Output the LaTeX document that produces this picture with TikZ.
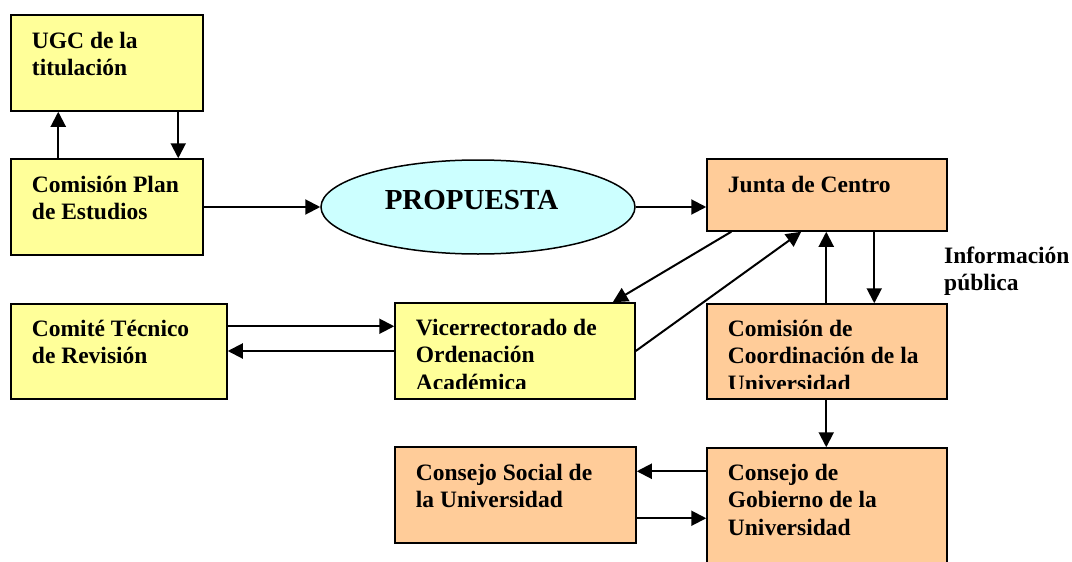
\documentclass[tikz,border=0pt]{standalone}
\usepackage{fontspec}
\setmainfont{Liberation Serif}
\usetikzlibrary{shapes.geometric,arrows.meta,calc}
\definecolor{boxyellow}{HTML}{FFFF99}
\definecolor{boxorange}{HTML}{FFCC99}
\definecolor{boxcyan}{HTML}{CCFFFF}
\newcommand\ml[1]{\begin{tabular}[t]{@{}l@{}}#1\end{tabular}}
\begin{document}
\begin{tikzpicture}[x=1pt,y=-1pt,
  box/.style={draw=black, line width=1.5pt, inner sep=0pt, rectangle},
  yel/.style={box, fill=boxyellow},
  org/.style={box, fill=boxorange},
  lbl/.style={anchor=base west, inner sep=0pt, font=\bfseries\fontsize{23.5}{27.5}\selectfont},
  arr/.style={line width=2pt, -{Triangle[length=15pt,width=15pt]}}]
\useasboundingbox (0,0) rectangle (1072,562);
% boxes
\node[yel, minimum width=192, minimum height=96] (ugc) at (107,63) {};
\node[yel, minimum width=192, minimum height=96] (cpe) at (107,207) {};
\node[yel, minimum width=216, minimum height=95] (comite) at (119,351.5) {};
\node[yel, minimum width=240, minimum height=96] (vice) at (515,351) {};
\node[org, minimum width=240, minimum height=72] (junta) at (827,195) {};
\node[org, minimum width=240, minimum height=95] (coord) at (827,351.5) {};
\node[org, minimum width=241, minimum height=96] (social) at (515.5,495) {};
\node[org, minimum width=240, minimum height=140] (gob) at (827,518) {};
\node[draw=black, line width=1.5pt, fill=boxcyan, ellipse, minimum width=314, minimum height=94, inner sep=0pt] (prop) at (478,207) {};
% texts
\node[lbl] (tugc) at ($(ugc.north west)+(21.5,34)$) {\ml{UGC de la\\titulación}};
\node[lbl] (tcpe) at ($(cpe.north west)+(21.5,34)$) {\ml{Comisión Plan\\de Estudios}};
\node[lbl] (tcomite) at ($(comite.north west)+(21.5,33)$) {\ml{Comité Técnico\\de Revisión}};
\begin{scope}
\clip (vice.north west) rectangle ($(vice.south east)+(0,-11)$);
\node[lbl] (tvice) at ($(vice.north west)+(21.5,33)$) {\ml{Vicerrectorado de\\Ordenación\\Académica}};
\end{scope}
\node[lbl] (tjunta) at ($(junta.north west)+(21.5,34)$) {Junta de Centro};
\begin{scope}
\clip (coord.north west) rectangle ($(coord.south east)+(0,-11)$);
\node[lbl] (tcoord) at ($(coord.north west)+(21.5,33)$) {\ml{Comisión de\\Coordinación de la\\Universidad}};
\end{scope}
\node[lbl] (tsocial) at ($(social.north west)+(21.5,34)$) {\ml{Consejo Social de\\la Universidad}};
\node[lbl] (tgob) at ($(gob.north west)+(21.5,33)$) {\ml{Consejo de\\Gobierno de la\\Universidad}};
\node[anchor=base, inner sep=0pt, font=\bfseries\fontsize{29}{34}\selectfont] (tprop) at (471.5,209) {PROPUESTA};
\node[lbl] (info) at (944,263) {\ml{Información\\pública}};
% helper coordinates
\coordinate (c1) at ($(comite.north east)+(0,23)$);
\coordinate (g1) at ($(gob.north west)+(0,24)$);
\coordinate (s1) at ($(social.north east)+(0,72)$);
% connectors
\draw[arr] ($(cpe.north west)+(48,0)$) -- ($(ugc.south west)+(48,0)$);
\draw[arr] ($(ugc.south west)+(168,0)$) -- ($(cpe.north west)+(168,0)$);
\draw[arr] (cpe.east) -- (prop.west);
\draw[arr] (prop.east) -- (prop.east -| junta.west);
\draw[arr] ($(junta.south west)+(25,0)$) -- ($(vice.north east)+(-23,0)$);
\draw[arr] (vice.east) -- ($(junta.south west)+(95,0)$);
\draw[arr] ($(coord.north west)+(120,0)$) -- ($(junta.south west)+(120,0)$);
\draw[arr] ($(junta.south west)+(168,0)$) -- ($(coord.north west)+(168,0)$);
\draw[arr] (c1) -- (c1 -| vice.west);
\draw[arr] (vice.west) -- (vice.west -| comite.east);
\draw[arr] ($(coord.south west)+(120,0)$) -- ($(gob.north west)+(120,0)$);
\draw[arr] (g1) -- (g1 -| social.east);
\draw[arr] (s1) -- (s1 -| gob.west);
\end{tikzpicture}
\end{document}
